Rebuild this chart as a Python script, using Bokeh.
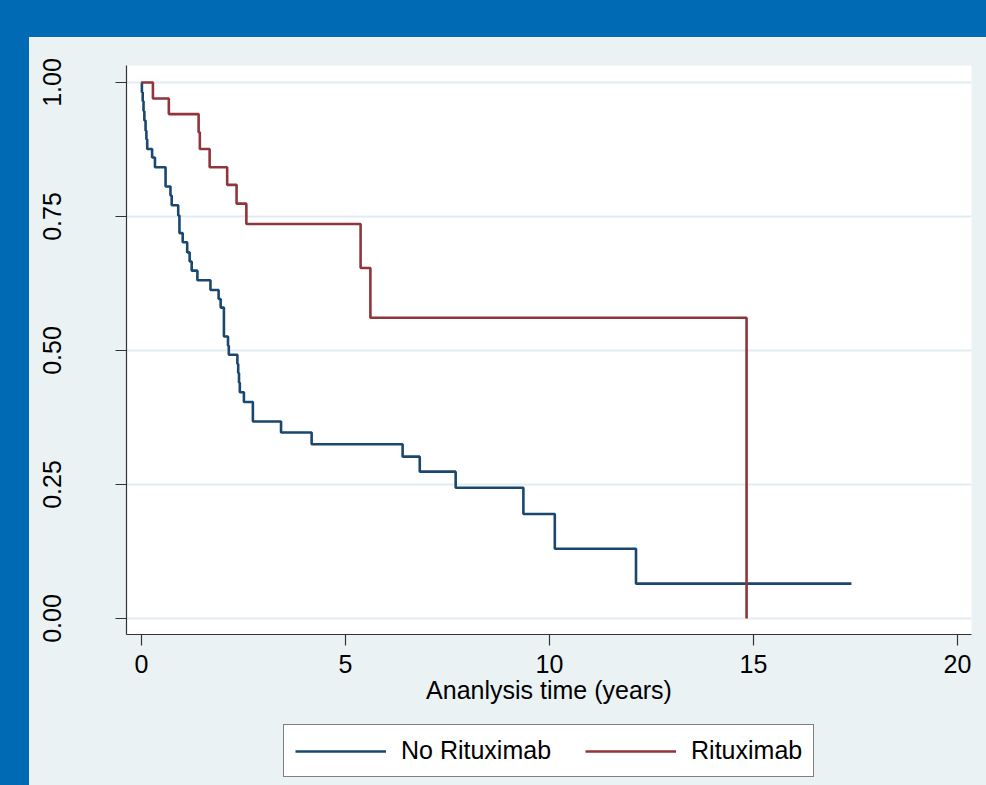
from bokeh.plotting import figure
from bokeh.models import (Range1d, FixedTicker, PrintfTickFormatter, Legend, LegendItem, Div)
from bokeh.layouts import column, row
from bokeh.embed import file_html
from bokeh.resources import INLINE

# ---- data ----
no_ritux_time = [0.0, 0.01, 0.03, 0.05, 0.07, 0.10, 0.12, 0.14, 0.26, 0.33, 0.59, 0.71, 0.74,
                 0.90, 0.93, 1.01, 1.12, 1.18, 1.23, 1.37, 1.69, 1.89, 1.94, 2.02, 2.12, 2.14,
                 2.35, 2.37, 2.39, 2.41, 2.51, 2.73, 3.42, 4.17, 6.40, 6.82, 7.70, 9.36, 10.13,
                 12.12, 17.40]
no_ritux_surv = [1.0, 0.982, 0.965, 0.947, 0.929, 0.910, 0.894, 0.876, 0.860, 0.842, 0.806, 0.789,
                 0.771, 0.752, 0.719, 0.702, 0.683, 0.666, 0.649, 0.631, 0.613, 0.596, 0.580,
                 0.526, 0.509, 0.492, 0.475, 0.458, 0.440, 0.422, 0.404, 0.3675, 0.347, 0.325,
                 0.302, 0.274, 0.244, 0.195, 0.130, 0.065, 0.065]

ritux_time = [0.0, 0.28, 0.67, 1.40, 1.43, 1.67, 2.10, 2.33, 2.57, 5.37, 5.61, 14.83]
ritux_surv = [1.0, 0.970, 0.941, 0.907, 0.876, 0.842, 0.809, 0.774, 0.736, 0.654, 0.561, 0.0]

x_ticks = [0, 5, 10, 15, 20]
y_ticks = [0.0, 0.25, 0.50, 0.75, 1.0]
series_names = ["No Rituximab", "Rituximab"]
x_label = "Ananlysis time (years)"

# ---- styling ----
BLUE_BAND = "#006ab4"
BG = "#eaf2f3"
C_BLUE = "#1a476f"
C_RED = "#90353b"
FONT = "Liberation Sans"
LW = 2.6

p = figure(width=957, height=678,
           x_range=Range1d(-0.3676, 20.343), y_range=Range1d(-0.02985, 1.0317),
           output_backend="svg", toolbar_location=None,
           min_border_left=97, min_border_right=15, min_border_top=28, min_border_bottom=81,
           background_fill_color="white", border_fill_color=BG, outline_line_color=None,
           margin=0, styles={"background-color": BG})

r1 = p.step(no_ritux_time, no_ritux_surv, mode="after", line_color=C_BLUE, line_width=LW)
r2 = p.step(ritux_time, ritux_surv, mode="after", line_color=C_RED, line_width=LW)

p.xgrid.grid_line_color = None
p.ygrid.grid_line_color = "#e2ebef"
p.ygrid.grid_line_width = 2
p.ygrid.ticker = FixedTicker(ticks=y_ticks)

p.xaxis.ticker = FixedTicker(ticks=x_ticks)
p.yaxis.ticker = FixedTicker(ticks=y_ticks)
p.yaxis.formatter = PrintfTickFormatter(format="%.2f")
for ax in (p.xaxis[0], p.yaxis[0]):
    ax.axis_line_color = "#333333"
    ax.axis_line_width = 1.2
    ax.major_tick_line_color = "#333333"
    ax.major_tick_line_width = 1.2
    ax.major_tick_in = 0
    ax.major_tick_out = 11
    ax.minor_tick_line_color = None
    ax.major_label_text_font = FONT
    ax.major_label_text_font_size = "25px"
    ax.major_label_text_color = "black"

p.yaxis.major_label_orientation = "vertical"
p.yaxis.major_label_standoff = 54
p.xaxis.major_label_standoff = 9
p.xaxis.axis_label = x_label
p.xaxis.axis_label_text_font = FONT
p.xaxis.axis_label_text_font_size = "25px"
p.xaxis.axis_label_text_font_style = "normal"
p.xaxis.axis_label_text_color = "black"
p.xaxis.axis_label_standoff = 0

# legend strip: a second, axis-less figure showing only the legend
# (the same step series are drawn there, but out of its visible range)
lg = figure(width=957, height=70, x_range=Range1d(0, 1), y_range=Range1d(5, 6),
            output_backend="svg", toolbar_location=None,
            min_border_left=0, min_border_right=0, min_border_top=0, min_border_bottom=0,
            background_fill_color=None, border_fill_color=None, outline_line_color=None,
            x_axis_type=None, y_axis_type=None, margin=0,
            styles={"background-color": BG})
lg.xgrid.visible = False
lg.ygrid.visible = False
k1 = lg.step(no_ritux_time, no_ritux_surv, mode="after", line_color=C_BLUE, line_width=LW)
k2 = lg.step(ritux_time, ritux_surv, mode="after", line_color=C_RED, line_width=LW)
legend = Legend(items=[LegendItem(label=series_names[0], renderers=[k1]),
                       LegendItem(label=series_names[1], renderers=[k2])],
                orientation="horizontal", location=(157, 8),
                border_line_color="black", border_line_width=1,
                background_fill_color="white", background_fill_alpha=1.0,
                label_text_font=FONT, label_text_font_size="25px", label_text_color="black",
                glyph_width=91, glyph_height=20, label_standoff=15, spacing=34,
                padding=11, margin=0)
lg.add_layout(legend, "center")

top = Div(text="", width=986, height=37, margin=0, styles={"background-color": BLUE_BAND})
left = Div(text="", width=29, height=748, margin=0, styles={"background-color": BLUE_BAND})
layout = column(top, row(left, column(p, lg, margin=0, spacing=0), margin=0), margin=0, spacing=0)

open("out.html", "w").write(file_html(layout, INLINE))
